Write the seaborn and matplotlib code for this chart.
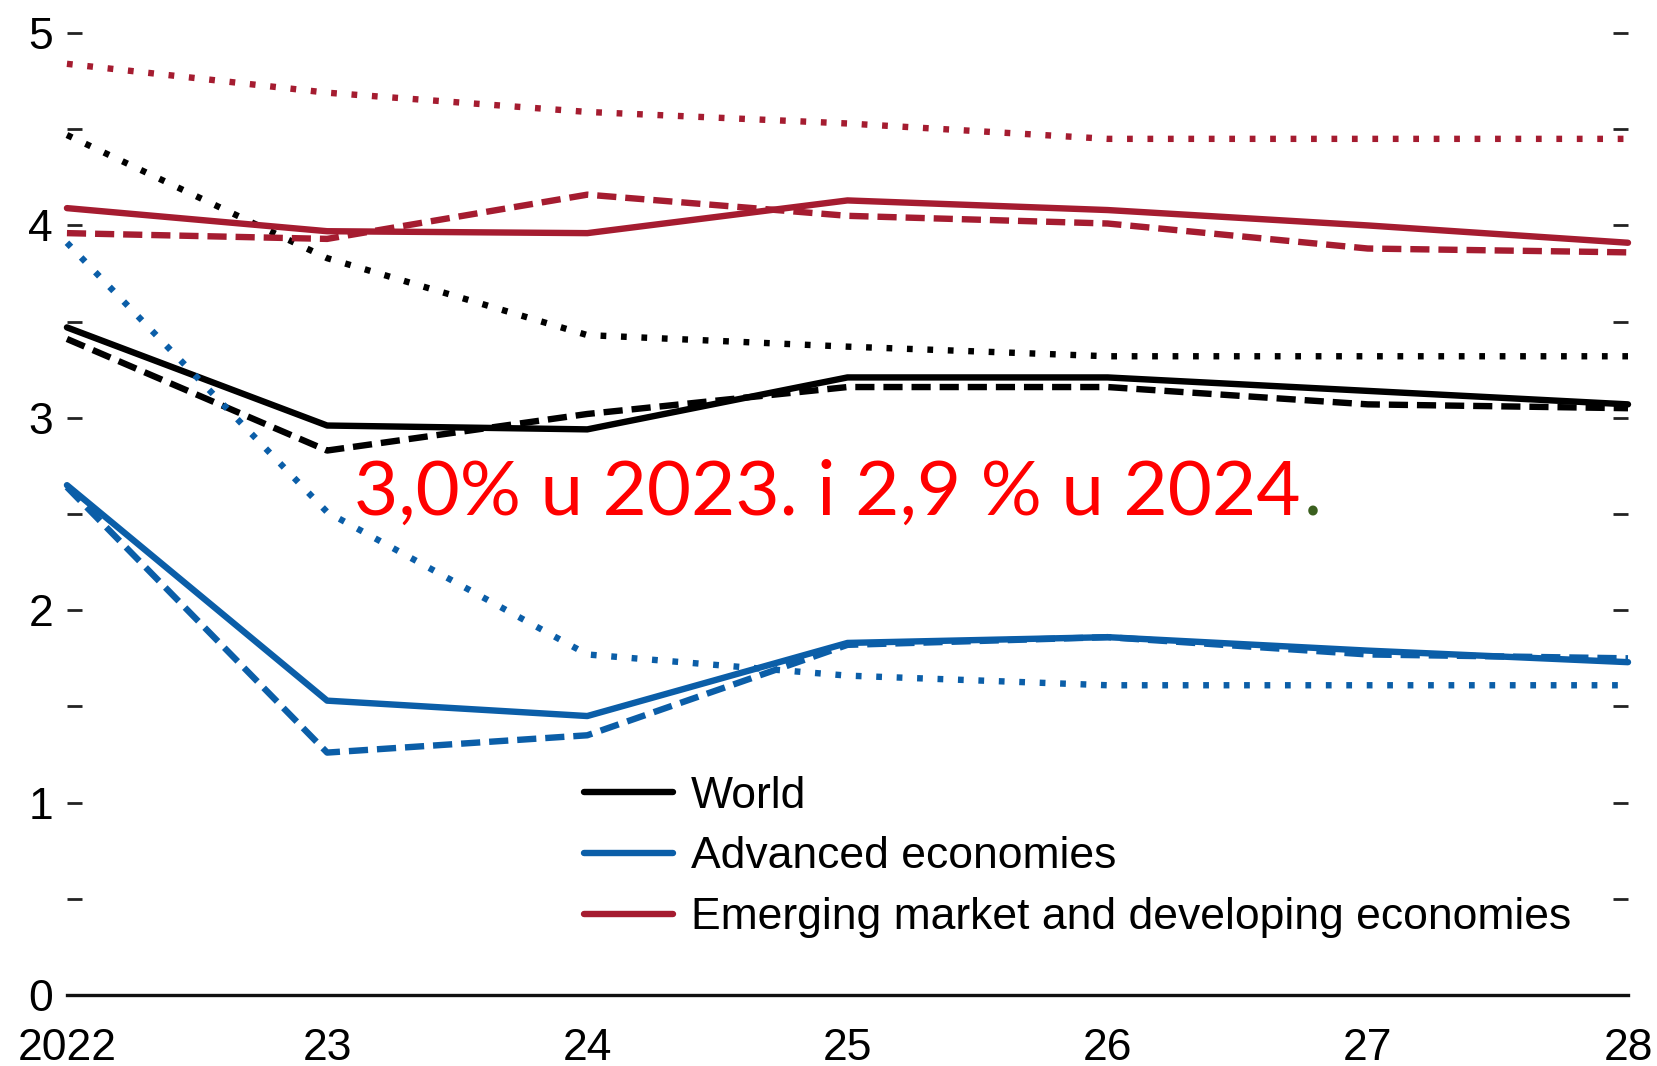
import matplotlib
matplotlib.use('Agg')
import matplotlib.pyplot as plt
import seaborn as sns
import pandas as pd
from matplotlib.lines import Line2D
from matplotlib.ticker import MultipleLocator, FixedLocator

# Valores
years = [2022, 2023, 2024, 2025, 2026, 2027, 2028]
year_labels = ['2022', '23', '24', '25', '26', '27', '28']

world_current = [3.47, 2.96, 2.94, 3.21, 3.21, 3.14, 3.07]
world_prev = [3.41, 2.83, 3.02, 3.16, 3.16, 3.07, 3.05]
world_prepand = [4.47, 3.83, 3.43, 3.37, 3.32, 3.32, 3.32]

ae_current = [2.65, 1.53, 1.45, 1.83, 1.86, 1.79, 1.73]
ae_prev = [2.64, 1.26, 1.35, 1.82, 1.86, 1.77, 1.75]
ae_prepand = [3.91, 2.51, 1.77, 1.66, 1.61, 1.61, 1.61]

emde_current = [4.09, 3.97, 3.96, 4.13, 4.08, 4.00, 3.91]
emde_prev = [3.96, 3.93, 4.16, 4.05, 4.01, 3.88, 3.86]
emde_prepand = [4.84, 4.69, 4.59, 4.53, 4.45, 4.45, 4.45]

regions = ['World', 'Advanced economies', 'Emerging market and developing economies']
colors = {'World': '#000000', 'Advanced economies': '#0B5EA8',
          'Emerging market and developing economies': '#A51C30'}

series = {
    ('World', 'current'): world_current,
    ('World', 'prev'): world_prev,
    ('World', 'prepand'): world_prepand,
    ('Advanced economies', 'current'): ae_current,
    ('Advanced economies', 'prev'): ae_prev,
    ('Advanced economies', 'prepand'): ae_prepand,
    ('Emerging market and developing economies', 'current'): emde_current,
    ('Emerging market and developing economies', 'prev'): emde_prev,
    ('Emerging market and developing economies', 'prepand'): emde_prepand,
}

rows = []
for (reg, vint), vals in series.items():
    for y, v in zip(years, vals):
        rows.append({'year': y, 'value': v, 'region': reg, 'vintage': vint})
df = pd.DataFrame(rows)

sns.set_style('white')
plt.rcParams['font.family'] = ['Liberation Sans Narrow', 'Liberation Sans', 'DejaVu Sans']
plt.rcParams['text.color'] = 'black'
plt.rcParams['xtick.color'] = 'black'
plt.rcParams['ytick.color'] = 'black'

fig = plt.figure(figsize=(16.57, 10.66), dpi=100)
ax = fig.add_axes([0.0404, 0.0666, 0.9421, 0.9024])

lw = 4.6
dash_map = {'current': '', 'prev': (3.0, 1.4), 'prepand': (0.9, 2.3)}
sns.lineplot(data=df, x='year', y='value', hue='region', style='vintage',
             hue_order=regions, style_order=['prepand', 'prev', 'current'],
             palette=colors, dashes=dash_map, linewidth=lw, legend=False,
             estimator=None, sort=False, ax=ax)
for ln in ax.lines:
    ln.set_dash_capstyle('butt')
    ln.set_clip_on(False)

ax.set_xlim(2022, 2028)
ax.set_ylim(0, 5)
ax.set_xlabel('')
ax.set_ylabel('')

for s in ['top', 'left', 'right']:
    ax.spines[s].set_visible(False)
ax.spines['bottom'].set_linewidth(2.4)
ax.spines['bottom'].set_color('#111111')

ax.xaxis.set_major_locator(FixedLocator(years))
ax.set_xticklabels(year_labels)
ax.yaxis.set_major_locator(MultipleLocator(1))
ax.yaxis.set_minor_locator(MultipleLocator(0.5))

ax.tick_params(axis='x', direction='in', length=11, width=2.4, pad=24,
               labelsize=32, color='#111111')
ax.tick_params(axis='y', which='both', direction='in', left=True, right=True,
               length=11, width=2, color='#222222', pad=10)
ax.tick_params(axis='y', which='major', labelsize=32)

handles = [Line2D([0], [0], color=colors[r], lw=lw) for r in regions]
ax.legend(handles, regions, loc='center left',
          bbox_to_anchor=(584 / 1657, 1 - 857 / 1066), bbox_transform=fig.transFigure,
          frameon=False, fontsize=32, handlelength=2.0, handletextpad=0.4,
          labelspacing=0.45, borderpad=0, borderaxespad=0)

txt = fig.text(354 / 1657, 1 - 515 / 1066, '3,0% u 2023. i 2,9 % u 2024',
               color='#FF0000', fontsize=55, family=['Lato', 'DejaVu Sans'],
               va='baseline', ha='left')
ax.annotate('.', xy=(1, 0), xycoords=txt, xytext=(2, 0), textcoords='offset points',
            color='#3A5F1E', fontsize=55, family=['Lato', 'DejaVu Sans'],
            va='bottom', ha='left', annotation_clip=False)

plt.savefig('out.png', dpi=100)
plt.close()
